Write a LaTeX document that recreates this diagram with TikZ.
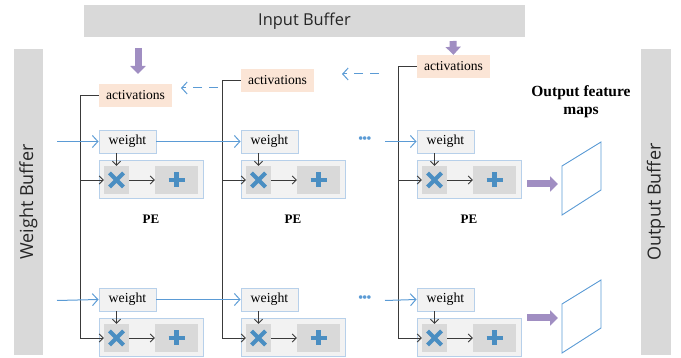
\documentclass[tikz,border=0pt]{standalone}
\usepackage{fontspec}
\setmainfont{Liberation Serif}
\newfontfamily\bufferfont{Open Sans}
\usetikzlibrary{arrows.meta}

\definecolor{bufgray}{HTML}{D9D9D9}
\definecolor{peach}{HTML}{FBE5D6}
\definecolor{boxfill}{HTML}{F2F2F2}
\definecolor{boxedge}{HTML}{B7D0EA}
\definecolor{unitgray}{HTML}{D9D9D9}
\definecolor{linkblue}{HTML}{5B9BD5}
\definecolor{opblue}{HTML}{4A8EC2}
\definecolor{feedpurple}{HTML}{A08EC2}
\definecolor{wire}{HTML}{3A3A3A}

\begin{document}
\begin{tikzpicture}[x=1pt,y=-1pt,
  buffer/.style={fill=bufgray, inner sep=0pt, text=black!85},
  actbox/.style={fill=peach, minimum width=73pt, minimum height=23pt, inner sep=0pt,
    font=\fontsize{13.6}{15}\selectfont},
  wbox/.style={fill=boxfill, draw=boxedge, line width=0.9pt, minimum width=57pt,
    minimum height=23pt, inner sep=0pt, font=\fontsize{13.8}{15}\selectfont},
  pebox/.style={fill=boxfill, draw=boxedge, line width=1pt, minimum width=104pt,
    minimum height=38pt, inner sep=0pt},
  mulbox/.style={fill=unitgray, minimum width=25pt, minimum height=28pt, inner sep=0pt},
  addbox/.style={fill=unitgray, minimum width=43pt, minimum height=28pt, inner sep=0pt},
  opsym/.style={draw=opblue, line width=4.2pt},
  wirearrow/.style={draw=wire, line width=0.9pt, -{Straight Barb[length=4pt,width=8pt]}},
  wireline/.style={draw=wire, line width=0.9pt},
  blink/.style={draw=linkblue, line width=1pt, -{Straight Barb[length=5.5pt,width=12pt]}},
  bdash/.style={blink, dash pattern=on 9pt off 7pt},
  fatarrow/.style={draw=feedpurple, line width=7pt, -{Triangle[length=8pt,width=15pt]}},
  pelabel/.style={font=\bfseries\fontsize{13}{15}\selectfont},
  fmap/.style={draw=linkblue, line width=0.9pt}
]
\useasboundingbox (0,0) rectangle (681,358);

% buffers
\node[buffer, minimum width=441pt, minimum height=32pt] (inbuf) at (304.5,21)
  {\fontsize{16.4}{18}\bufferfont Input Buffer};
\node[buffer, rotate=90, minimum width=306pt, minimum height=29pt] (wbuf) at (28.5,202)
  {\fontsize{18}{20}\bufferfont Weight Buffer};
\node[buffer, rotate=90, minimum width=306pt, minimum height=30pt] (obuf) at (656,202)
  {\fontsize{18}{20}\bufferfont Output Buffer};

% activation registers
\node[actbox] (act1) at (135.5,95.5) {activations};
\node[actbox] (act2) at (277.5,80.5) {activations};
\node[actbox] (act3) at (453.5,66.5) {activations};

% processing elements: columns offset by dx, rows by dy
\foreach \c/\dx in {1/0,2/142,3/318}{
  \foreach \r/\dy in {1/0,2/158}{
    \node[wbox] (w\c-\r) at (127.5+\dx,141.5+\dy) {weight};
    \node[pebox] (pe\c-\r) at (151+\dx,180+\dy) {};
    \node[mulbox] (mul\c-\r) at (116.5+\dx,180+\dy) {};
    \node[addbox] (add\c-\r) at (176.5+\dx,180+\dy) {};
    \begin{scope}[shift={(mul\c-\r.center)}]
      \draw[opsym] (-7,-7) -- (7,7) (-7,7) -- (7,-7);
    \end{scope}
    \begin{scope}[shift={(add\c-\r.center)}]
      \draw[opsym] (-8,0) -- (8,0) (0,-7.5) -- (0,7.5);
    \end{scope}
    \draw[wirearrow] (w\c-\r.south -| mul\c-\r.north) -- (mul\c-\r.north);
    \draw[wirearrow] (mul\c-\r.east) -- (add\c-\r.west);
  }
  \node[pelabel] (pel\c) at (151+\dx,219) {PE};
  % activation bus down the column
  \draw[wireline] (act\c.west) -- ++(-18,0) coordinate (bus\c);
  \draw[wirearrow] (bus\c) |- (mul\c-2.west);
  \draw[wirearrow] (bus\c |- mul\c-1.west) -- (mul\c-1.west);
}

% weight links
\foreach \r/\y in {1/141.5,2/300.5}{
  \coordinate (win\r) at (57,\y);
  \coordinate (wfeed\r) at (385,\y);
  \draw[blink] (win\r) -- (w1-\r.west);
  \draw[blink] (w1-\r.east) -- (w2-\r.west);
  \node[text=linkblue, inner sep=0pt, font=\fontsize{15}{15}\selectfont] (dots\r) at (365,\y-1)
    {\kern-0.3pt\textbullet\kern-1.2pt\textbullet\kern-1.2pt\textbullet};
  \draw[blink] (wfeed\r) -- (w3-\r.west);
}

% activation shifting between columns
\coordinate (sh1s) at (218,88);
\coordinate (sh1e) at (181,88);
\coordinate (sh2s) at (379,74);
\coordinate (sh2e) at (342,74);
\draw[bdash] (sh1s) -- (sh1e);
\draw[bdash] (sh2s) -- (sh2e);

% loads from the input buffer
\coordinate (ld1) at (138,48);
\coordinate (ld1e) at (138,74);
\draw[fatarrow] (ld1) -- (ld1e);
\coordinate (ld3) at (453,41);
\draw[fatarrow] (ld3) -- (act3.north);

% output feature maps
\node[font=\bfseries\fontsize{15.5}{18}\selectfont, align=center] (ofm) at (581,102)
  {Output feature\\maps};
\coordinate (o1s) at (527,184);
\coordinate (o1e) at (558,184);
\coordinate (o2s) at (527,318);
\coordinate (o2e) at (558,318);
\draw[fatarrow] (o1s) -- (o1e);
\draw[fatarrow] (o2s) -- (o2e);
\draw[fmap] (562,166) -- (601,142) -- (601,190) -- (562,215) -- cycle;
\draw[fmap] (562,304) -- (601,280) -- (601,328) -- (562,353) -- cycle;
\end{tikzpicture}
\end{document}
